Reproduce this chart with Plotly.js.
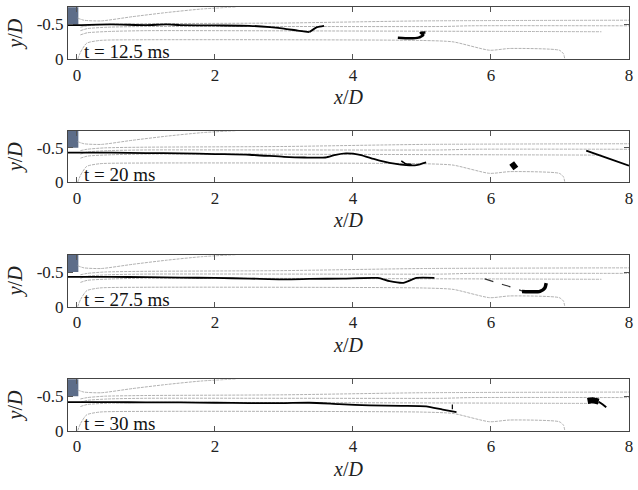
<!DOCTYPE html>
<html><head><meta charset="utf-8">
<script src="https://cdn.plot.ly/plotly-3.0.1.min.js"></script>
<style>html,body{margin:0;padding:0;background:#fff}</style>
</head><body><div id="chart" style="width:638px;height:490px"></div>
<script>
// ---- data ----
const panelLabels = ['t = 12.5 ms', 't = 20 ms', 't = 27.5 ms', 't = 30 ms'];
const xTickVals = [0, 2, 4, 6, 8];
const xTickText = ['0', '2', '4', '6', '8'];
const yTickVals = [-0.5, 0];
const yTickText = ['-0.5', '0'];

// nozzle block (same in every panel)
const blockX = [-0.13, 0.02, 0.02, -0.13, -0.13];
const blockY = [-0.75, -0.75, -0.5, -0.5, -0.75];

// gray background contour lines (same in every panel)
const grayUpperX = [0.01, 0.1, 0.35, 0.8, 1.3, 1.8, 2.3];
const grayUpperY = [-0.59, -0.56, -0.55, -0.61, -0.67, -0.72, -0.75];
const grayMid1X = [0.05, 0.15, 0.4, 1.0, 3.0, 5.0, 8.0];
const grayMid1Y = [-0.46, -0.48, -0.5, -0.51, -0.52, -0.55, -0.56];
const grayMid2X = [0.05, 0.15, 0.45, 1.0, 3.0, 5.3, 5.7, 8.0];
const grayMid2Y = [-0.41, -0.44, -0.46, -0.47, -0.47, -0.47, -0.48, -0.48];
const grayMid3X = [0.05, 0.15, 0.5, 1.0, 4.0, 6.0, 7.6];
const grayMid3Y = [-0.35, -0.38, -0.4, -0.41, -0.405, -0.4, -0.395];
const grayLowX = [0.01, 0.05, 0.14, 0.33, 1.0, 3.0, 5.0, 5.45, 5.98, 6.27, 6.99, 7.05, 7.07];
const grayLowY = [0, -0.1, -0.23, -0.27, -0.28, -0.28, -0.27, -0.25, -0.13, -0.155, -0.13, -0.08, 0];

// black interface pieces, panel 1 (t = 12.5 ms)
const p1MainX = [-0.13, 0.01, 0.5, 1.0, 1.3, 1.5, 2.0, 2.5, 2.8, 3.0, 3.2, 3.37];
const p1MainY = [-0.49, -0.49, -0.5, -0.49, -0.5, -0.49, -0.485, -0.48, -0.46, -0.44, -0.41, -0.39];
const p1HookX = [3.37, 3.48, 3.58];
const p1HookY = [-0.39, -0.46, -0.48];
const p1DropX = [4.65, 4.82, 4.95, 5.02, 4.98, 5.05];
const p1DropY = [-0.31, -0.30, -0.31, -0.35, -0.38, -0.385];

// panel 2 (t = 20 ms)
const p2MainX = [-0.13, 0.5, 1.0, 1.5, 2.0, 2.5, 3.0, 3.3, 3.6, 3.75, 3.9, 4.1, 4.3, 4.45, 4.6, 4.77, 4.92, 5.06];
const p2MainY = [-0.43, -0.43, -0.425, -0.42, -0.41, -0.40, -0.37, -0.36, -0.36, -0.40, -0.42, -0.40, -0.34, -0.30, -0.27, -0.25, -0.25, -0.29];
const p2HookX = [4.7, 4.76, 4.85];
const p2HookY = [-0.31, -0.27, -0.26];
const p2BlobX = [6.3, 6.36];
const p2BlobY = [-0.28, -0.2];
const p2RightX = [7.38, 7.72, 8.0];
const p2RightY = [-0.46, -0.34, -0.24];

// panel 3 (t = 27.5 ms)
const p3MainX = [-0.13, 0.5, 1.0, 1.5, 2.0, 2.5, 3.0, 3.37, 3.85, 4.36, 4.53, 4.73, 4.92, 5.18];
const p3MainY = [-0.43, -0.43, -0.425, -0.42, -0.414, -0.405, -0.395, -0.40, -0.405, -0.414, -0.367, -0.343, -0.414, -0.414];
const p3ThinX = [5.91, 6.1, 6.27, 6.49];
const p3ThinY = [-0.40, -0.34, -0.29, -0.214];
const p3TailX = [6.45, 6.6, 6.71, 6.78, 6.80];
const p3TailY = [-0.22, -0.214, -0.22, -0.27, -0.34];

// panel 4 (t = 30 ms)
const p4MainX = [-0.13, 0.5, 1.0, 1.5, 2.0, 2.5, 3.0, 3.37, 3.8, 4.24, 4.7, 5.06, 5.3, 5.5];
const p4MainY = [-0.414, -0.414, -0.41, -0.41, -0.405, -0.40, -0.40, -0.405, -0.385, -0.367, -0.36, -0.353, -0.306, -0.27];
const p4TickX = [5.44, 5.44];
const p4TickY = [-0.38, -0.31];
const p4BlobX = [7.4, 7.47, 7.56];
const p4BlobY = [-0.43, -0.44, -0.42];
const p4TailX = [7.56, 7.62, 7.67];
const p4TailY = [-0.42, -0.38, -0.34];

// ---- build ----
const FONT = 'Liberation Serif, Times New Roman, serif';
const traces = [];
const ax = i => (i === 0 ? '' : String(i + 1));

function line(i, x, y, color, width, dash) {
  traces.push({type: 'scatter', mode: 'lines', x: x, y: y,
    xaxis: 'x' + ax(i), yaxis: 'y' + ax(i), hoverinfo: 'skip',
    line: {color: color, width: width, dash: dash || 'solid', shape: 'spline', smoothing: 0.6}});
}

const blackPieces = [
  [[p1MainX, p1MainY, 1.8], [p1HookX, p1HookY, 1.8], [p1DropX, p1DropY, 2.5]],
  [[p2MainX, p2MainY, 1.8], [p2HookX, p2HookY, 1.5], [p2BlobX, p2BlobY, 6], [p2RightX, p2RightY, 1.8]],
  [[p3MainX, p3MainY, 1.8], [p3TailX, p3TailY, 3.5]],
  [[p4MainX, p4MainY, 1.8], [p4TickX, p4TickY, 1.2], [p4BlobX, p4BlobY, 6], [p4TailX, p4TailY, 2]]
];

const GRAY = '#a8a8a8';
const GDASH = '3px,1px';
for (let i = 0; i < 4; i++) {
  traces.push({type: 'scatter', mode: 'lines', x: blockX, y: blockY,
    xaxis: 'x' + ax(i), yaxis: 'y' + ax(i), fill: 'toself', fillcolor: '#5d6d89',
    line: {color: '#5d6d89', width: 0}, hoverinfo: 'skip'});
  line(i, grayUpperX, grayUpperY, GRAY, 0.9, GDASH);
  line(i, grayMid1X, grayMid1Y, GRAY, 0.9, GDASH);
  line(i, grayMid2X, grayMid2Y, GRAY, 0.9, GDASH);
  line(i, grayMid3X, grayMid3Y, GRAY, 0.9, GDASH);
  line(i, grayLowX, grayLowY, GRAY, 0.9, GDASH);
  if (i === 2) line(i, p3ThinX, p3ThinY, '#333', 1.2, 'dash');
  blackPieces[i].forEach(p => line(i, p[0], p[1], '#000', p[2]));
}

const plotTop = 7, plotBottom = 59, H = 490;
const innerH = H - plotTop - plotBottom;
const panelPx = [[7.3, 59.3], [131, 182.3], [255, 306.7], [379.3, 430.7]];
const layout = {
  width: 638, height: 490,
  margin: {l: 68, r: 9, t: plotTop, b: plotBottom},
  showlegend: false,
  paper_bgcolor: '#fff', plot_bgcolor: '#fff',
  font: {family: FONT, color: '#222', size: 16},
  annotations: []
};
for (let i = 0; i < 4; i++) {
  const d0 = 1 - (panelPx[i][1] - plotTop) / innerH;
  const d1 = 1 - (panelPx[i][0] - plotTop) / innerH;
  layout['xaxis' + ax(i)] = {
    domain: [0, 1], range: [-0.13, 8.0], anchor: 'y' + ax(i),
    tickvals: xTickVals, ticktext: xTickText, ticks: 'inside', ticklen: 5,
    tickcolor: '#555', tickwidth: 1,
    showline: true, mirror: 'ticks', linecolor: '#444', linewidth: 1,
    showgrid: false, zeroline: false,
    tickfont: {family: FONT, size: 17, color: '#222'},
    title: {text: '<i>x</i>/<i>D</i>', font: {family: FONT, size: 20, color: '#222'}, standoff: 6}
  };
  layout['yaxis' + ax(i)] = {
    domain: [Math.max(0, d0), Math.min(1, d1)], range: [0, -0.745], anchor: 'x' + ax(i),
    tickvals: yTickVals, ticktext: yTickText, ticks: 'inside', ticklen: 5,
    tickcolor: '#555', tickwidth: 1,
    showline: true, mirror: 'ticks', linecolor: '#444', linewidth: 1,
    showgrid: false, zeroline: false,
    tickfont: {family: FONT, size: 17, color: '#222'},
    title: {text: '<i>y</i>/<i>D</i>', font: {family: FONT, size: 20, color: '#222'}, standoff: 8}
  };
  layout.annotations.push({
    xref: 'x' + ax(i), yref: 'y' + ax(i), x: 0.08, y: -0.11,
    xanchor: 'left', yanchor: 'middle', showarrow: false,
    text: panelLabels[i], font: {family: FONT, size: 19, color: '#111'}
  });
}

Plotly.newPlot('chart', traces, layout, {staticPlot: true, displayModeBar: false});
</script></body></html>
